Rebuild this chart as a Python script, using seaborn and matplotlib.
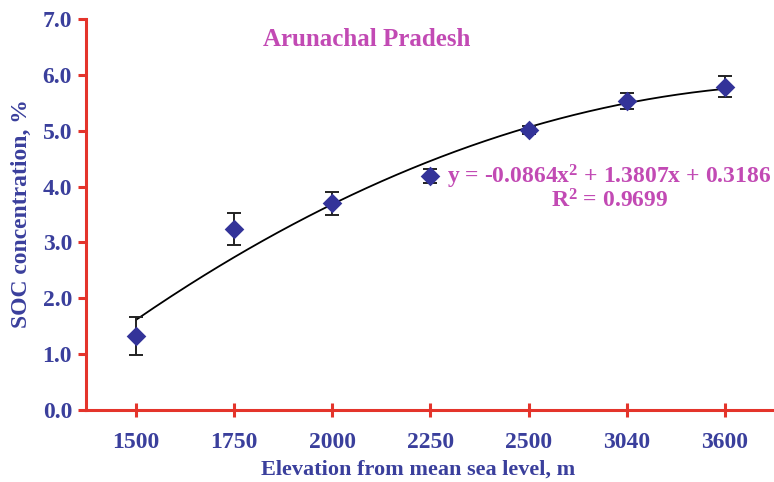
import numpy as np
import pandas as pd
import matplotlib
matplotlib.use("Agg")
import matplotlib.pyplot as plt
import seaborn as sns

# ---- data ----
elevations = ["1500", "1750", "2000", "2250", "2500", "3040", "3600"]
soc_mean = [1.32, 3.24, 3.70, 4.19, 5.01, 5.53, 5.79]
soc_err = [0.34, 0.29, 0.20, 0.13, 0.07, 0.15, 0.19]
trend_coef = [-0.0864, 1.3807, 0.3186]   # quadratic trendline (Excel)
r_squared = 0.9699
y_ticks = [0.0, 1.0, 2.0, 3.0, 4.0, 5.0, 6.0, 7.0]

title_text = "Arunachal Pradesh"
x_label = "Elevation from mean sea level, m"
y_label = "SOC concentration, %"

# ---- style ----
sns.set_theme(style="white")
plt.rcParams["font.family"] = ["Liberation Serif", "DejaVu Serif"]
plt.rcParams["font.weight"] = "bold"
plt.rcParams["mathtext.fontset"] = "custom"
plt.rcParams["mathtext.rm"] = "Liberation Serif:bold"
plt.rcParams["mathtext.it"] = "Liberation Serif:bold"
plt.rcParams["mathtext.bf"] = "Liberation Serif:bold"

BLUE_TXT = "#3a3f9c"
MARK = "#333399"
RED = "#e4342b"
MAG = "#c24ab4"

pos = np.arange(1, len(elevations) + 1)
df = pd.DataFrame({"pos": pos, "soc": soc_mean, "err": soc_err})

fig = plt.figure(figsize=(7.74, 4.82), dpi=100)
ax = fig.add_axes([86 / 774, 72 / 482, 1 - 86 / 774, (410 - 19) / 482])

# trendline from the fitted quadratic
xs = np.linspace(pos[0], pos[-1], 200)
ys = np.polyval(trend_coef, xs)
sns.lineplot(x=xs, y=ys, ax=ax, color="black", lw=1.3, zorder=2)

ax.errorbar(df["pos"], df["soc"], yerr=df["err"], fmt="none", ecolor="#222222",
            elinewidth=1.4, capsize=5, capthick=1.4, zorder=3)
sns.scatterplot(data=df, x="pos", y="soc", ax=ax, marker="D", s=100,
                color=MARK, edgecolor=MARK, linewidth=0, zorder=4)

ax.set_xlim(0.491, 7.5)
ax.set_ylim(0, 7.0)
ax.set_xticks(pos)
ax.set_xticklabels(elevations)
ax.set_yticks(y_ticks)
ax.set_yticklabels([f"{v:.1f}" for v in y_ticks])

for s in ["top", "right"]:
    ax.spines[s].set_visible(False)
for s in ["left", "bottom"]:
    ax.spines[s].set_color(RED)
    ax.spines[s].set_linewidth(2.2)

ax.tick_params(axis="y", direction="out", length=6, width=2.2, color=RED,
               labelsize=17, labelcolor=BLUE_TXT, pad=4, left=True)
ax.tick_params(axis="x", direction="inout", length=10, width=2.2, color=RED,
               labelsize=17, labelcolor=BLUE_TXT, pad=11, bottom=True)
for lab in ax.get_xticklabels() + ax.get_yticklabels():
    lab.set_fontweight("bold")

ax.set_xlabel(x_label, fontsize=16, fontweight="bold", color=BLUE_TXT, labelpad=6)
ax.xaxis.set_label_coords((418 - 86) / 688, -(470 - 410) / 391 , transform=ax.transAxes)
ax.xaxis.label.set_va("center")
ax.set_ylabel(y_label, fontsize=17, fontweight="bold", color=BLUE_TXT, labelpad=6)
ax.yaxis.set_label_coords(-(86 - 21) / 688, (410 - 214) / 391, transform=ax.transAxes)
ax.yaxis.label.set_va("center")
ax.set_facecolor("white")
fig.patch.set_facecolor("white")

fig.text(367 / 774, 1 - 40 / 482, title_text, ha="center", va="center",
         fontsize=18, fontweight="bold", color=MAG)

a, b, c = trend_coef
eq = (r"y = %.4fx$^{\mathregular{2}}$ + %.4fx + %.4f" % (a, b, c))
fig.text(447 / 774, 1 - 177 / 482, eq, ha="left", va="center",
         fontsize=17, fontweight="bold", color=MAG)
fig.text(610 / 774, 1 - 201 / 482, r"R$^{\mathregular{2}}$ = %.4f" % r_squared,
         ha="center", va="center", fontsize=17, fontweight="bold", color=MAG)

fig.savefig("out.png", dpi=100)
